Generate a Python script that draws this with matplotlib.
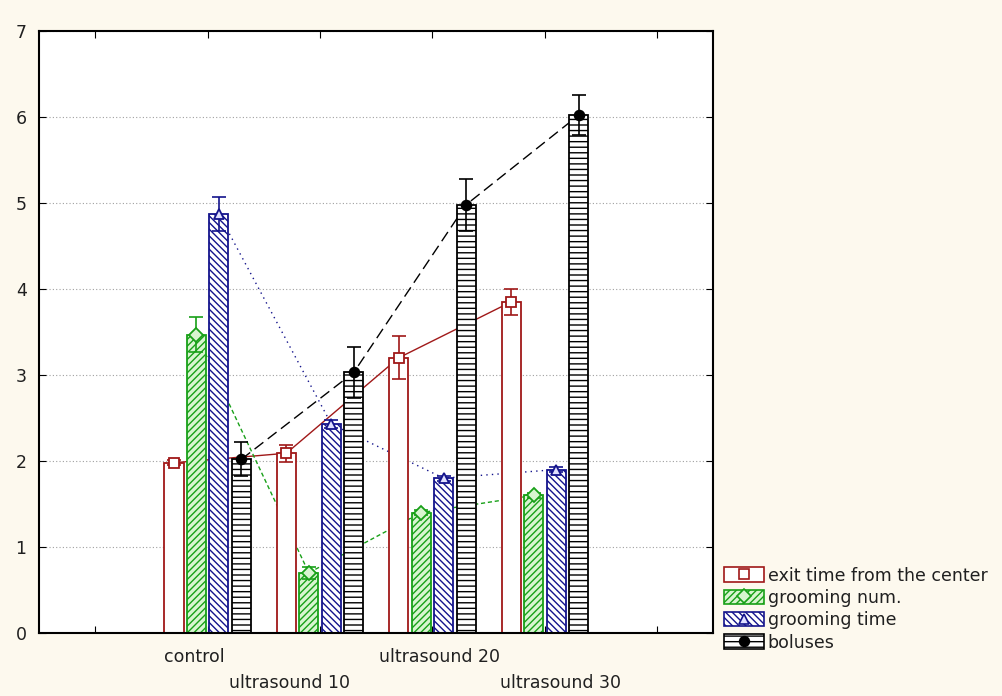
import matplotlib.pyplot as plt
from matplotlib.patches import Patch
from matplotlib.lines import Line2D
import numpy as np

plt.rcParams['font.family'] = ['DejaVu Sans']
plt.rcParams['hatch.linewidth'] = 1.0

categories = ['control', 'ultrasound 10', 'ultrasound 20', 'ultrasound 30']
series_names = ['exit time from the center', 'grooming num.', 'grooming time', 'boluses']

exit_time = [1.98, 2.09, 3.20, 3.85]
exit_time_err = [0.03, 0.10, 0.25, 0.15]
grooming_num = [3.47, 0.70, 1.40, 1.60]
grooming_num_err = [0.20, 0.07, 0.03, 0.03]
grooming_time = [4.87, 2.43, 1.80, 1.90]
grooming_time_err = [0.20, 0.05, 0.03, 0.03]
boluses = [2.02, 3.03, 4.98, 6.02]
boluses_err = [0.20, 0.30, 0.30, 0.23]

values = [exit_time, grooming_num, grooming_time, boluses]
errors = [exit_time_err, grooming_num_err, grooming_time_err, boluses_err]

colors = ['#a01818', '#18a018', '#14148c', '#000000']
faces = ['white', '#d8f5d0', 'white', 'white']
hatches = [None, '/////', '\\\\\\\\\\', '---']
markers = ['s', 'D', '^', 'o']
marker_faces = ['white', '#d8f5d0', '#e0e0ff', 'black']
line_styles = ['-', (0, (3, 2)), (0, (1, 3)), (0, (8, 4))]

bg = '#fdf9ee'
fig = plt.figure(figsize=(10.02, 6.96), dpi=100, facecolor=bg)
ax = fig.add_axes([0.039, 0.0905, 0.673, 0.865])
ax.set_facecolor('white')

x = np.arange(len(categories))
offsets = [-0.3, -0.1, 0.1, 0.3]
width = 0.17

for i in range(4):
    xs = x + offsets[i]
    ax.plot(xs, values[i], color=colors[i], linestyle=line_styles[i], lw=1.0, zorder=1)
    ax.bar(xs, values[i], width=width, color=faces[i], edgecolor=colors[i],
           hatch=hatches[i], linewidth=1.3, zorder=2)
    ax.errorbar(xs, values[i], yerr=errors[i], fmt='none', ecolor=colors[i],
                elinewidth=1.2, capsize=5, capthick=1.2, zorder=3)
    ax.plot(xs, values[i], linestyle='none', marker=markers[i], ms=7,
            mfc=marker_faces[i], mec=colors[i], mew=1.3, zorder=4)

ax.set_xlim(-1.5, 4.5)
ax.set_ylim(0, 7)
ax.set_yticks(range(8))
ax.yaxis.grid(True, linestyle=(0, (1, 2)), color='#a0a0a0', lw=0.8)
ax.set_axisbelow(True)

ax.set_xticks([-1, 0, 1, 2, 3, 4])
ax.set_xticklabels([])
ax.tick_params(direction='in', length=5, top=True, right=True, labelsize=12.5,
               pad=9, labelcolor='#202020')

# staggered category labels, nudged the way the original software placed them
label_shift = [-0.12, -0.27, 0.06, 0.14]
for i, name in enumerate(categories):
    dy = -0.28 if i % 2 == 0 else -0.58
    ax.text(x[i] + label_shift[i], dy, name, ha='center', va='center', fontsize=12.5,
            color='#202020', transform=ax.transData, clip_on=False)

for s in ax.spines.values():
    s.set_linewidth(1.5)

handles = []
for i in range(4):
    p = Patch(facecolor=faces[i], edgecolor=colors[i], hatch=hatches[i], lw=1.2)
    m = Line2D([], [], linestyle='none', marker=markers[i], ms=7,
               mfc=marker_faces[i], mec=colors[i], mew=1.2)
    handles.append((p, m))
fig.legend(handles, series_names, loc='upper left', bbox_to_anchor=(0.723, 0.186),
           frameon=False, fontsize=12.5, handlelength=2.3, handleheight=0.9,
           labelspacing=0.25, handletextpad=0.2, borderaxespad=0, borderpad=0,
           labelcolor='#202020')

fig.savefig('out.png', dpi=100, facecolor=bg)
